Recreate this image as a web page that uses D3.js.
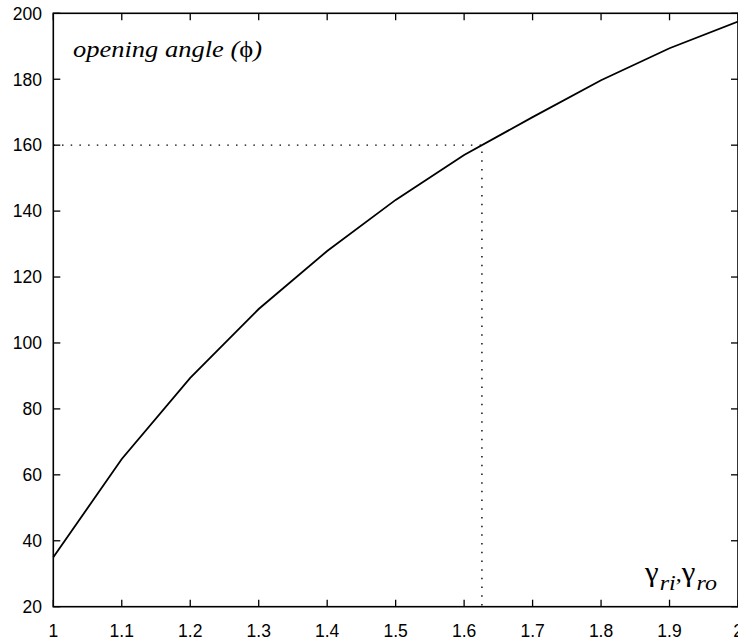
<!DOCTYPE html>
<html><head><meta charset="utf-8">
<script src="https://cdn.jsdelivr.net/npm/d3@7"></script>
<style>body{margin:0;background:#fff}svg{display:block}</style>
</head><body>
<script>
const gammaValues = [1.0, 1.1, 1.2, 1.3, 1.4, 1.5, 1.6, 1.7, 1.8, 1.9, 2.0];
const angleValues = [35, 64.8, 89.4, 110.3, 127.9, 143.4, 157, 168.5, 179.7, 189.4, 197.5];
const xTicks = [1, 1.1, 1.2, 1.3, 1.4, 1.5, 1.6, 1.7, 1.8, 1.9, 2];
const yTicks = [20, 40, 60, 80, 100, 120, 140, 160, 180, 200];
const markerAngle = 160;
const markerGamma = 1.626;

const SANS = "'Liberation Sans', Arial, Helvetica, sans-serif";
const SERIF = "'Liberation Serif', 'Times New Roman', Times, serif";

const W = 738, H = 642;
const L = 53.3, R = 738, T = 13.3, B = 606.7;
const svg = d3.select("body").append("svg").attr("width", W).attr("height", H);
const x = d3.scaleLinear().domain([1, 2]).range([L, R]);
const y = d3.scaleLinear().domain([20, 200]).range([B, T]);

const tickLen = 7;
const g = svg.append("g");
xTicks.forEach(v => {
  g.append("line").attr("x1", x(v)).attr("x2", x(v)).attr("y1", B).attr("y2", B - tickLen).attr("stroke", "#000").attr("stroke-width", 1.3);
  g.append("line").attr("x1", x(v)).attr("x2", x(v)).attr("y1", T).attr("y2", T + tickLen).attr("stroke", "#000").attr("stroke-width", 1.3);
  g.append("text").attr("x", x(v)).attr("y", 637).attr("text-anchor", "middle")
    .style("font-family", SANS).style("font-size", "17.5px").text(d3.format("")(v));
});
yTicks.forEach(v => {
  g.append("line").attr("x1", L).attr("x2", L + tickLen).attr("y1", y(v)).attr("y2", y(v)).attr("stroke", "#000").attr("stroke-width", 1.3);
  g.append("line").attr("x1", R).attr("x2", R - tickLen).attr("y1", y(v)).attr("y2", y(v)).attr("stroke", "#000").attr("stroke-width", 1.3);
  g.append("text").attr("x", 42).attr("y", y(v) + 6.3).attr("text-anchor", "end")
    .style("font-family", SANS).style("font-size", "17.5px").text(v);
});
g.append("rect").attr("x", L).attr("y", T).attr("width", R - L).attr("height", B - T)
  .attr("fill", "none").attr("stroke", "#000").attr("stroke-width", 1.6);

g.append("path").attr("d", `M${x(1)},${y(markerAngle)}H${x(markerGamma)}V${y(20)}`)
  .attr("fill", "none").attr("stroke", "#000").attr("stroke-width", 1.4).attr("stroke-dasharray", "1.5,7.2");

const line = d3.line().x((d, i) => x(gammaValues[i])).y(d => y(d));
g.append("path").datum(angleValues).attr("d", line).attr("fill", "none").attr("stroke", "#000").attr("stroke-width", 1.8);

const t1 = g.append("text").attr("x", 73).attr("y", 57).style("font-family", SERIF).style("font-size", "24px")
  .attr("textLength", 189).attr("lengthAdjust", "spacingAndGlyphs");
t1.append("tspan").style("font-style", "italic").text("opening angle (");
t1.append("tspan").text("ϕ");
t1.append("tspan").style("font-style", "italic").text(")");

const gl = g.append("text").attr("x", 645).attr("y", 581).style("font-family", SERIF).style("font-size", "27px")
  .attr("textLength", 72).attr("lengthAdjust", "spacingAndGlyphs");
gl.append("tspan").text("γ");
gl.append("tspan").style("font-style", "italic").style("font-size", "21px").attr("dy", 9).attr("dx", 1).text("ri");
gl.append("tspan").style("font-style", "italic").style("font-size", "21px").attr("dy", -9).text(",");
gl.append("tspan").text("γ");
gl.append("tspan").style("font-style", "italic").style("font-size", "21px").attr("dy", 9).attr("dx", 1).text("ro");
</script>
</body></html>
